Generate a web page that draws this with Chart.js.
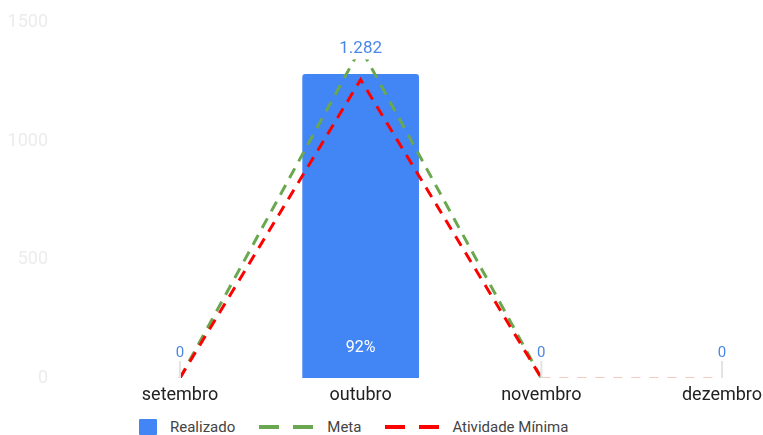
<!DOCTYPE html>
<html>
<head>
<meta charset="utf-8">
<script src="https://cdn.jsdelivr.net/npm/chart.js@4.4.1/dist/chart.umd.min.js"></script>
<style>
  html, body { margin: 0; padding: 0; background: #fff; }
  body { width: 763px; height: 435px; overflow: hidden; position: relative; font-family: Roboto, Arial, sans-serif; }
  #wrap { position: absolute; left: 0; top: 0; width: 763px; height: 410px; }
  #legend { position: absolute; left: 139px; top: 419px; height: 16px; display: flex; align-items: center; font-size: 15px; color: #444; }
  #legend .box { width: 18px; height: 16px; background: #4285f4; border-radius: 1px; }
  #legend .dash { width: 20px; height: 4px; }
  #legend .txt { line-height: 16px; }
</style>
</head>
<body>
<div id="wrap"><canvas id="chart"></canvas></div>
<div id="legend">
  <span class="box"></span><span class="txt" style="margin-left:13px">Realizado</span>
  <span class="dash" style="margin-left:24px;background:#6aa84f"></span><span class="dash" style="margin-left:14px;background:#6aa84f"></span>
  <span class="txt" style="margin-left:14px">Meta</span>
  <span class="dash" style="margin-left:24px;background:#ff0000"></span><span class="dash" style="margin-left:14px;background:#ff0000"></span>
  <span class="txt" style="margin-left:13px">Atividade Mínima</span>
</div>
<script>
// dados
const categories = ['setembro', 'outubro', 'novembro', 'dezembro'];
const realizado = [0, 1282, 0, 0];
const meta = [0, 1393, 0, 0];
const atividadeMinima = [0, 1260, 0, 0];
const yTicks = [0, 500, 1000, 1500];

const toPoints = arr => arr.map((v, i) => ({ x: i, y: v }));

const fmt = v => String(v).replace(/\B(?=(\d{3})+(?!\d))/g, '.');

// rótulos das barras
const labelPlugin = {
  id: 'barLabels',
  afterDatasetsDraw(chart) {
    const ctx = chart.ctx;
    const bars = chart.getDatasetMeta(0).data;
    ctx.save();
    ctx.textAlign = 'center';
    ctx.textBaseline = 'middle';
    bars.forEach((bar, i) => {
      const v = realizado[i];
      if (v > 0) {
        ctx.font = '17px Roboto, Arial, sans-serif';
        const txt = fmt(v);
        const w = ctx.measureText(txt).width;
        ctx.fillStyle = '#fff';
        ctx.fillRect(bar.x - w / 2 - 3, bar.y - 37, w + 6, 22);
        ctx.fillStyle = '#4a86e8';
        ctx.fillText(txt, bar.x, bar.y - 26);
        // percentual da meta
        const pct = Math.round(v / meta[i] * 100) + '%';
        ctx.font = '16px Roboto, Arial, sans-serif';
        ctx.fillStyle = '#fff';
        ctx.fillText(pct, bar.x, bar.base - 30);
      } else {
        ctx.strokeStyle = '#e3e3e3';
        ctx.lineWidth = 2;
        ctx.beginPath();
        ctx.moveTo(bar.x, bar.y - 17);
        ctx.lineTo(bar.x, bar.y);
        ctx.stroke();
        ctx.font = '15px Roboto, Arial, sans-serif';
        ctx.fillStyle = '#4a86e8';
        ctx.fillText('0', bar.x, bar.y - 25);
      }
    });
    ctx.restore();
  }
};

const fadeSegment = color => ({
  borderColor: c => c.p0DataIndex === 2 ? '#f6c9bb' : color,
  borderWidth: c => c.p0DataIndex === 2 ? 1.5 : 3,
  borderDash: c => c.p0DataIndex === 2 ? [9, 9] : [11, 8]
});

new Chart(document.getElementById('chart'), {
  type: 'bar',
  data: {
    datasets: [{
      label: 'Realizado',
      data: toPoints(realizado),
      backgroundColor: c => (c.raw && c.raw.y > 0) ? '#4285f4' : 'rgba(0,0,0,0)',
      barThickness: 116,
      borderRadius: { topLeft: 3, topRight: 3 },
      borderSkipped: 'bottom',
      order: 3
    }, {
      type: 'line',
      label: 'Meta',
      data: toPoints(meta),
      borderColor: '#6aa84f',
      borderWidth: 3,
      borderDash: [11, 8],
      pointRadius: 0,
      fill: false,
      segment: fadeSegment('#6aa84f'),
      order: 2
    }, {
      type: 'line',
      label: 'Atividade Mínima',
      data: toPoints(atividadeMinima),
      borderColor: '#ff0000',
      borderWidth: 3,
      borderDash: [11, 8],
      pointRadius: 0,
      fill: false,
      segment: fadeSegment('#ff0000'),
      order: 1
    }]
  },
  options: {
    responsive: true,
    maintainAspectRatio: false,
    animation: false,
    layout: { padding: { top: 22, left: 0, right: 0, bottom: 0 } },
    plugins: {
      legend: { display: false },
      tooltip: { enabled: false }
    },
    scales: {
      x: {
        type: 'linear',
        offset: false,
        min: -0.664,
        max: 3.227,
        grid: { display: false, drawTicks: false },
        border: { display: false },
        afterBuildTicks: scale => { scale.ticks = categories.map((c, i) => ({ value: i })); },
        afterFit: scale => { scale.height = 32; scale.paddingLeft = 0; scale.paddingRight = 0; },
        ticks: {
          padding: 7,
          maxRotation: 0,
          autoSkip: false,
          color: '#222',
          font: { size: 18, family: 'Roboto, Arial, sans-serif' },
          callback: v => categories[v]
        }
      },
      y: {
        min: 0,
        max: 1500,
        grid: { display: false, drawTicks: false },
        border: { display: false },
        afterBuildTicks: scale => { scale.ticks = yTicks.map(v => ({ value: v })); },
        afterFit: scale => { scale.width = 60; },
        ticks: {
          padding: 12,
          color: '#ececec',
          font: { size: 18, family: 'Roboto, Arial, sans-serif' },
          callback: v => String(v)
        }
      }
    }
  },
  plugins: [labelPlugin]
});
</script>
</body>
</html>
